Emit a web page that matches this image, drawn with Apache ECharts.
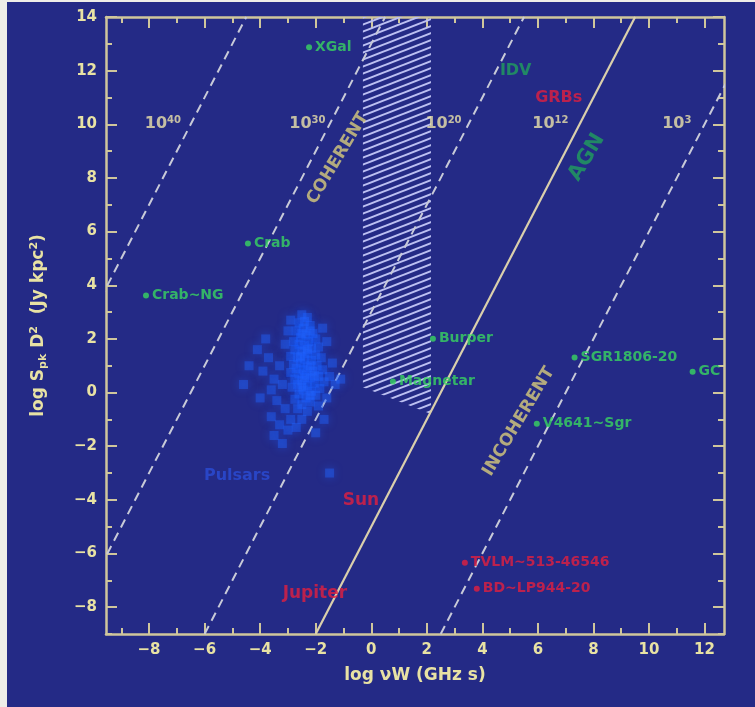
<!DOCTYPE html>
<html><head><meta charset="utf-8">
<script src="https://cdn.jsdelivr.net/npm/echarts@6/dist/echarts.min.js"></script>
<style>
html,body{margin:0;padding:0;background:#eeede8;width:755px;height:707px;overflow:hidden;}
#c{position:absolute;left:7px;top:2px;width:748px;height:705px;}
</style></head><body><div id="c"></div>
<script>
// ---------- data ----------
const xRange = [-9.55, 12.7];
const yRange = [-9, 14];
const xMajor = [-8, -6, -4, -2, 0, 2, 4, 6, 8, 10, 12];
const xMinor = [-9, -7, -5, -3, -1, 1, 3, 5, 7, 9, 11];
const yMajor = [-8, -6, -4, -2, 0, 2, 4, 6, 8, 10, 12, 14];
const yMinor = [-9, -7, -5, -3, -1, 1, 3, 5, 7, 9, 11, 13];

// brightness-temperature lines (endpoints)
const tb40 = [[-10.5, 2], [-4.5, 14]];
const tb30 = [[-11, -9], [0.5, 14]];
const tb20 = [[-6, -9], [5.5, 14]];
const tb12 = [[-2, -9], [9.5, 14]];
const tb3  = [[2.5, -9], [14, 14]];

const tbExp = ['40', '30', '20', '12', '3'];
const tbLabX = [-7.5, -2.3, 2.6, 6.45, 11.0];
const tbLabY = [10, 10, 10, 10, 10];

const hatchRegion = [[-0.3, 14], [2.15, 14], [2.15, -0.8], [-0.3, 0.2]];

const greenNames = ['XGal', 'Crab', 'Crab~NG', 'Burper', 'Magnetar', 'SGR1806-20', 'GC', 'V4641~Sgr'];
const greenX = [-2.24, -4.44, -8.11, 2.22, 0.78, 7.32, 11.57, 5.96];
const greenY = [12.87, 5.56, 3.62, 2.01, 0.41, 1.31, 0.78, -1.16];

const redNames = ['TVLM~513-46546', 'BD~LP944-20'];
const redX = [3.37, 3.8];
const redY = [-6.34, -7.31];

const annoNames = ['COHERENT', 'INCOHERENT', 'AGN', 'IDV', 'GRBs', 'Sun', 'Jupiter', 'Pulsars'];
const annoX = [-1.2, 5.31, 7.76, 5.2, 6.75, -0.37, -2.03, -4.83];
const annoY = [8.73, -1.08, 8.77, 12.0, 10.97, -4.03, -7.5, -3.1];

const pulsars = [
 [-2.5,2.9],[-2.3,2.8],[-2.6,2.6],[-2.2,2.5],[-2.45,2.4],[-2.7,2.3],[-2.1,2.2],[-2.35,2.15],[-2.55,2.05],[-2.0,2.0],
 [-2.8,1.9],[-2.25,1.9],[-2.6,1.8],[-2.4,1.75],[-1.9,1.7],[-2.15,1.65],[-2.75,1.6],[-2.5,1.55],[-2.3,1.45],[-2.0,1.4],
 [-2.9,1.35],[-2.65,1.3],[-1.8,1.3],[-2.4,1.25],[-2.15,1.2],[-2.55,1.1],[-2.8,1.05],[-1.95,1.0],[-2.3,0.95],[-2.7,0.9],
 [-2.45,0.85],[-1.75,0.85],[-2.1,0.8],[-2.9,0.75],[-2.6,0.7],[-2.35,0.65],[-1.9,0.6],[-2.2,0.55],[-2.75,0.5],[-2.5,0.45],
 [-1.7,0.4],[-2.05,0.35],[-2.65,0.3],[-2.3,0.25],[-2.85,0.2],[-1.85,0.15],[-2.45,0.1],[-2.15,0.05],[-2.6,-0.05],[-2.0,-0.1],
 [-2.35,-0.2],[-2.75,-0.25],[-2.2,-0.35],[-2.5,-0.45],[-1.9,-0.5],[-2.65,-0.6],[-2.3,-0.7],
 [-2.4,2.65],[-2.2,2.3],[-2.5,2.2],[-2.3,1.6],[-2.55,1.35],[-2.2,1.0],[-2.4,0.55],[-2.05,0.65],[-2.5,0.2],[-2.2,-0.1],
 [-4.4,1.0],[-4.1,1.6],[-3.9,0.8],[-3.7,1.3],[-3.5,0.5],[-3.3,1.0],[-3.6,0.1],[-3.2,0.3],[-3.4,-0.3],[-3.1,-0.6],
 [-3.6,-0.9],[-3.3,-1.2],[-3.5,-1.6],[-3.2,-1.9],[-3.0,-1.4],[-2.9,-1.0],[-3.1,1.8],[-3.0,2.3],[-2.9,2.7],[-1.5,0.6],
 [-1.3,0.3],[-1.1,0.5],[-1.6,-0.2],[-1.4,1.1],[-1.6,1.9],[-1.75,2.4],[-4.6,0.3],[-4.0,-0.2],[-2.7,-1.3],[-2.5,-1.0],
 [-1.7,-1.0],[-3.8,2.0],[-1.5,-3.0],[-2.0,-1.5]
];

// ---------- styling ----------
const C = {bg:'#242a86', axis:'#cfc69c', tick:'#e8e2a4', green:'#38d660', teal:'#20a05c',
  red:'#e21f3e', gold:'#d8cc7c', dash:'#c8cad8', solid:'#dacfac', pulsar:'#2264ff', tb:'#ece4aa'};
const FONT = 'DejaVu Sans';

const chart = echarts.init(document.getElementById('c'));

// hatch pattern
const pc = document.createElement('canvas');
pc.width = 18; pc.height = 7;
const g = pc.getContext('2d');
g.strokeStyle = '#bcc0f2'; g.lineWidth = 2;
[-7, 0, 7].forEach(dy => { g.beginPath(); g.moveTo(-18, 14 + dy); g.lineTo(36, -7 + dy); g.stroke(); });

const minus = v => v < 0 ? '\u2212' + Math.abs(v) : String(v);

function mkX(pos, vals, len, main) {
  return {
    type: 'value', min: xRange[0], max: xRange[1], position: pos,
    axisLine: {show: main, onZero: false, lineStyle: {color: C.axis, width: 2.5}},
    axisTick: {show: true, inside: true, length: len, customValues: vals, lineStyle: {color: C.axis, width: 2}},
    axisLabel: (main && pos === 'bottom') ? {show: true, customValues: xMajor, formatter: minus, color: C.tick,
      fontFamily: FONT, fontWeight: 'bold', fontSize: 15, margin: 9} : {show: false},
    splitLine: {show: false},
    name: (main && pos === 'bottom') ? 'log \u03bdW (GHz s)' : '',
    nameLocation: 'middle', nameGap: 33,
    nameTextStyle: {color: C.tick, fontFamily: FONT, fontWeight: 'bold', fontSize: 17}
  };
}
function mkY(pos, vals, len, main) {
  return {
    type: 'value', min: yRange[0], max: yRange[1], position: pos,
    axisLine: {show: main, onZero: false, lineStyle: {color: C.axis, width: 2.5}},
    axisTick: {show: true, inside: true, length: len, customValues: vals, lineStyle: {color: C.axis, width: 2}},
    axisLabel: (main && pos === 'left') ? {show: true, customValues: yMajor, formatter: minus, color: C.tick,
      fontFamily: FONT, fontWeight: 'bold', fontSize: 15, margin: 9} : {show: false},
    splitLine: {show: false},
    name: (main && pos === 'left') ? '{n|log S}{sub|pk}{n| D}{sup|2}{n|  (Jy kpc}{sup|2}{n|)}' : '',
    nameLocation: 'middle', nameGap: 57,
    nameTextStyle: {color: C.tick, fontFamily: FONT, fontWeight: 'bold', fontSize: 17,
      rich: {
        n: {color: C.tick, fontFamily: FONT, fontWeight: 'bold', fontSize: 17, lineHeight: 20},
        sub: {color: C.tick, fontFamily: FONT, fontWeight: 'bold', fontSize: 11, lineHeight: 11, verticalAlign: 'bottom'},
        sup: {color: C.tick, fontFamily: FONT, fontWeight: 'bold', fontSize: 11, lineHeight: 11, verticalAlign: 'top'}
      }}
  };
}

const lineSeries = (data, solid) => ({
  type: 'line', data: data, symbol: 'none', silent: true, clip: true, z: 3,
  lineStyle: solid ? {color: C.solid, width: 2.2} : {color: C.dash, width: 2, type: [9, 6]}
});

const annoStyle = {
  COHERENT: {color: C.gold, fontSize: 17, rotate: 59},
  INCOHERENT: {color: C.gold, fontSize: 17, rotate: 59},
  AGN: {color: C.teal, fontSize: 21, rotate: 59},
  IDV: {color: C.teal, fontSize: 16, rotate: 0},
  GRBs: {color: C.red, fontSize: 16, rotate: 0},
  Sun: {color: C.red, fontSize: 17, rotate: 0},
  Jupiter: {color: C.red, fontSize: 17, rotate: 0},
  Pulsars: {color: '#2a4cd6', fontSize: 16, rotate: 0}
};

const option = {
  backgroundColor: C.bg,
  animation: false,
  grid: {left: 99, right: 31, top: 15, bottom: 73, outerBoundsMode: 'none', containLabel: false},
  xAxis: [mkX('bottom', xMajor, 11, true), mkX('bottom', xMinor, 6, false),
          mkX('top', xMajor, 11, true), mkX('top', xMinor, 6, false)],
  yAxis: [mkY('left', yMajor, 11, true), mkY('left', yMinor, 6, false),
          mkY('right', yMajor, 11, true), mkY('right', yMinor, 6, false)],
  series: [
    {
      type: 'custom', data: hatchRegion, silent: true, clip: true, z: 2,
      renderItem: (params, api) => {
        if (params.dataIndex !== 0) return null;
        return {type: 'polygon', shape: {points: hatchRegion.map(p => api.coord(p))},
          style: {fill: {image: pc, repeat: 'repeat'}, stroke: null}};
      }
    },
    lineSeries(tb40, false), lineSeries(tb30, false), lineSeries(tb20, false),
    lineSeries(tb12, true), lineSeries(tb3, false),
    {
      type: 'scatter', data: pulsars, symbol: 'rect', symbolSize: 9, silent: true, z: 4,
      itemStyle: {color: C.pulsar, opacity: 0.42, shadowBlur: 8, shadowColor: 'rgba(34,100,255,0.9)'}
    },
    {
      type: 'scatter', silent: true, z: 5, symbolSize: 6,
      data: greenNames.map((n, i) => ({name: n, value: [greenX[i], greenY[i]]})),
      itemStyle: {color: C.green},
      label: {show: true, position: 'right', distance: 3, formatter: '{b}', color: C.green,
        fontFamily: FONT, fontWeight: 'bold', fontSize: 14}
    },
    {
      type: 'scatter', silent: true, z: 5, symbolSize: 6,
      data: redNames.map((n, i) => ({name: n, value: [redX[i], redY[i]]})),
      itemStyle: {color: C.red},
      label: {show: true, position: 'right', distance: 3, formatter: '{b}', color: C.red,
        fontFamily: FONT, fontWeight: 'bold', fontSize: 14}
    },
    {
      type: 'scatter', silent: true, z: 6, symbolSize: 1, itemStyle: {color: 'rgba(0,0,0,0)'},
      data: tbExp.map((e, i) => ({name: e, value: [tbLabX[i], tbLabY[i]]})),
      label: {show: true, position: 'inside', formatter: p => '{b|10}{s|' + p.name + '}',
        rich: {
          b: {color: C.tb, fontFamily: FONT, fontWeight: 'bold', fontSize: 16, lineHeight: 18},
          s: {color: C.tb, fontFamily: FONT, fontWeight: 'bold', fontSize: 10, lineHeight: 10, verticalAlign: 'top'}
        }}
    },
    {
      type: 'scatter', silent: true, z: 6, symbolSize: 1, itemStyle: {color: 'rgba(0,0,0,0)'},
      data: annoNames.map((n, i) => ({name: n, value: [annoX[i], annoY[i]],
        label: {color: annoStyle[n].color, fontSize: annoStyle[n].fontSize, rotate: annoStyle[n].rotate}})),
      label: {show: true, position: 'inside', formatter: '{b}', fontFamily: FONT, fontWeight: 'bold'}
    }
  ]
};
chart.setOption(option);
</script>
</body></html>
